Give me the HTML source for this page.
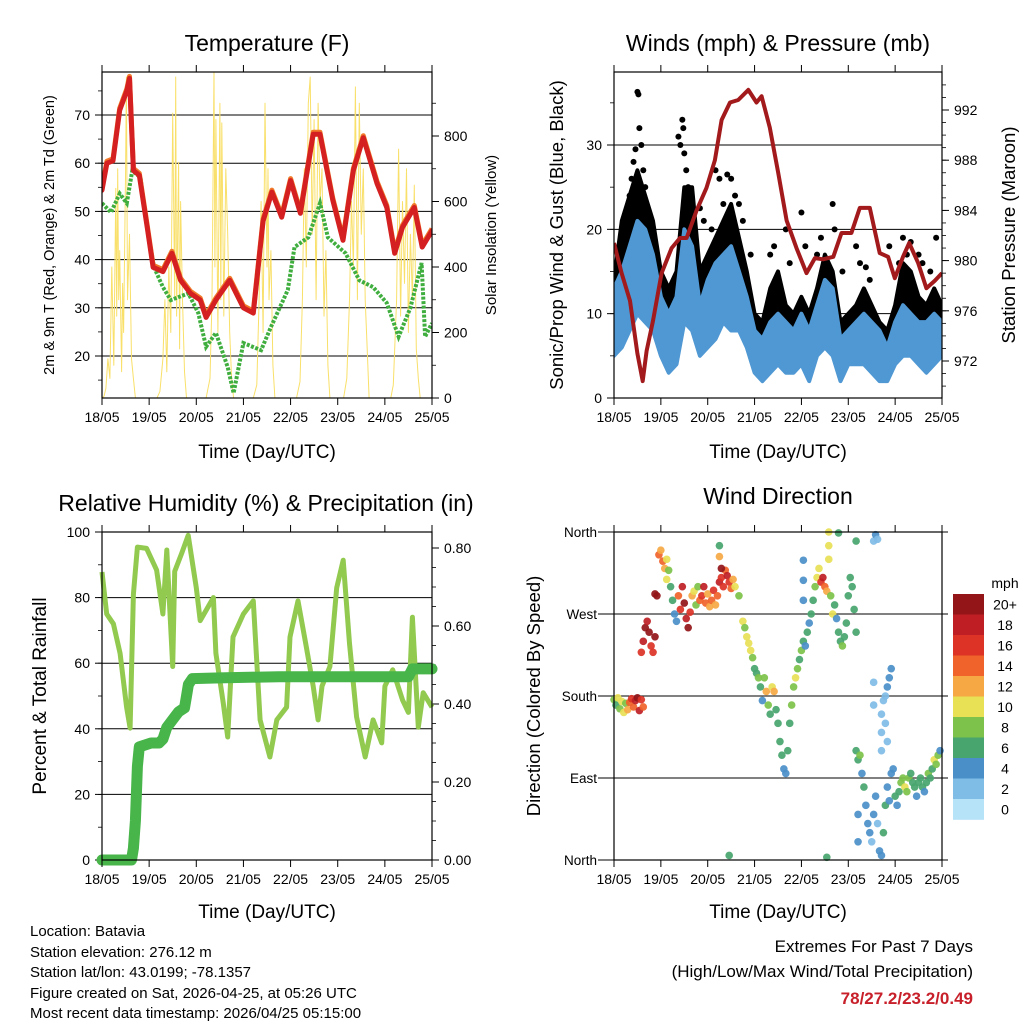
<!DOCTYPE html>
<html><head><meta charset="utf-8"><title>Station Meteogram</title>
<style>
html,body{margin:0;padding:0;background:#fff;}
svg{display:block;font-family:"Liberation Sans",Arial,sans-serif;}
.ttl{font-size:23px;fill:#000;}
.axl{font-size:19px;fill:#000;}
.ft{font-size:15px;fill:#000;}
</style></head>
<body>
<svg id="chart" width="1024" height="1024" viewBox="0 0 1024 1024">
<rect x="0" y="0" width="1024" height="1024" fill="#fff"/>
<g id="p1"></g>
<g id="p2"></g>
<g id="p3"></g>
<g id="p4"></g>

<text class="ttl" x="267" y="51" text-anchor="middle">Temperature (F)</text>
<text class="ttl" x="778" y="51" text-anchor="middle">Winds (mph) &amp; Pressure (mb)</text>
<text class="ttl" x="266" y="511" text-anchor="middle">Relative Humidity (%) &amp; Precipitation (in)</text>
<text class="ttl" x="778" y="504" text-anchor="middle">Wind Direction</text>

<text class="axl" x="267" y="458" text-anchor="middle">Time (Day/UTC)</text>
<text class="axl" x="778" y="458" text-anchor="middle">Time (Day/UTC)</text>
<text class="axl" x="267" y="918" text-anchor="middle">Time (Day/UTC)</text>
<text class="axl" x="778" y="918" text-anchor="middle">Time (Day/UTC)</text>

<text x="0" y="0" transform="translate(54,235) rotate(-90)" text-anchor="middle" style="font-size:14.5px">2m &amp; 9m T (Red, Orange) &amp; 2m Td (Green)</text>
<text x="0" y="0" transform="translate(496,235) rotate(-90)" text-anchor="middle" style="font-size:15px">Solar Insolation (Yellow)</text>
<text x="0" y="0" transform="translate(563,235) rotate(-90)" text-anchor="middle" style="font-size:18.5px">Sonic/Prop Wind &amp; Gust (Blue, Black)</text>
<text x="0" y="0" transform="translate(1015,235) rotate(-90)" text-anchor="middle" style="font-size:18.5px">Station Pressure (Maroon)</text>
<text x="0" y="0" transform="translate(46,696) rotate(-90)" text-anchor="middle" style="font-size:19px">Percent &amp; Total Rainfall</text>
<text x="0" y="0" transform="translate(540,696) rotate(-90)" text-anchor="middle" style="font-size:18.5px">Direction (Colored By Speed)</text>

<g>
<text class="ft" x="30" y="936">Location: Batavia</text>
<text class="ft" x="30" y="957">Station elevation: 276.12 m</text>
<text class="ft" x="30" y="977">Station lat/lon: 43.0199; -78.1357</text>
<text class="ft" x="30" y="998">Figure created on Sat, 2026-04-25, at 05:26 UTC</text>
<text class="ft" x="30" y="1018">Most recent data timestamp: 2026/04/25 05:15:00</text>
</g>
<g>
<text x="973" y="952" text-anchor="end" style="font-size:17px">Extremes For Past 7 Days</text>
<text x="973" y="977" text-anchor="end" style="font-size:17px">(High/Low/Max Wind/Total Precipitation)</text>
<text x="973" y="1004" text-anchor="end" style="font-size:17px;font-weight:bold;fill:#c8202a">78/27.2/23.2/0.49</text>
</g>
</svg>
<script>
// ---------- data ----------
var dayLabels = ["18/05","19/05","20/05","21/05","22/05","23/05","24/05","25/05"];
// temperature panel
var tempTicks = [20,30,40,50,60,70];
var solarTicks = [0,200,400,600,800];
var tempH = [0,2.5,5.6,9,12.6,14,16,19,23,26,31,35.6,40,45,50,53,58,65,72,77,82,86.5,91.5,96,101,107.5,111,117.5,122.7,128,133,140,145,149,153,159,163,168];
var tempV = [54.4,60,60.5,71,75,77.6,58.5,57.5,46.7,38.4,37.5,41.3,35.7,33,31.6,28,31.6,35.7,30,28.9,48,54,48.8,56.4,49.6,66,66,52.3,44,58.5,65.3,55.8,50.8,41.3,46.7,50.8,42.6,46];
var dewH = [0,4.6,9,12.6,15.4,19.6,23,26.5,31,35,44,49,53,58,64,67,72,81,86,94.6,98,105,111,115,124,131,138,145,151,157,162.7,164.5,168];
var dewV = [51.7,49.8,53.7,51.7,58.5,57,46.7,38.4,34.3,31.6,33,28.9,21.9,24.8,17.7,12.3,22.7,21.2,26,33.7,42.6,44.6,51.7,44.6,41.3,35.7,34.3,31,24,30,39.3,24,26.8];
var solarH = [0,1,2,3,4,5,6,7,7.5,8,8.5,9,10,10.5,11,12,12.4,13,14,15,16,17,
  28,29.5,31,32,33,34,35,36,37,37.5,38,39,39.5,40,41,42,43,
  53,55,56,57,57.5,58,59,60,60.5,61,62,63,64,65,66,67,
  77,78.8,80,81,82,83,84,84.5,85,86,87,88,
  99,100.8,102,103,104,105,106,107,108,109,110,111,112,113,114,115,116,
  123,124.6,126,127,128,129,130,131,132,133,134,135,136,
  147,148.3,150,151,152,153,154,155,156,157,158,159,160,161,162];
var solarW = [0,5,30,120,60,400,100,640,250,700,300,450,80,350,200,700,980,300,500,120,60,0,
  0,20,120,300,80,400,200,870,300,980,250,720,150,600,300,80,0,
  0,60,300,1000,400,850,200,900,300,840,250,700,500,200,60,0,
  0,40,300,600,200,900,400,700,300,450,100,0,
  0,50,300,700,400,900,980,500,850,300,900,600,700,250,450,100,0,
  0,60,300,600,400,950,300,900,500,700,300,150,0,
  0,40,300,760,250,600,350,700,200,500,300,650,150,60,0];
// wind panel
var windTicks = [0,10,20,30];
var presTicks = [972,976,980,984,988,992];
var windH = [0,4,8,12,16,20,24,28,32,36,40,44,48,52,56,60,64,68,72,76,80,84,88,92,96,100,104,108,112,116,120,124,128,132,136,140,144,148,152,156,160,164,168];
var windLo = [5,6,8,10,9,8,5,3,4,9,8,5,6,7,9,8,8,6,3,2,3,4,3,3,4,2,5,6,5,2,4,4,4,3,2,2,4,5,5,4,3,4,5];
var windHi = [13,15,18,21,20,17,12,10,12,20,18,11,14,16,17,18,15,12,8,7,9,10,9,8,10,8,11,14,13,7,8,9,10,9,8,6,9,11,10,9,9,10,9];
var gustLo = [8,9,12,15,13,11,8,7,7,13,12,8,9,10,12,12,11,8,6,5,6,7,6,6,6,5,8,10,8,5,6,6,7,6,5,4,6,9,8,7,6,7,7];
var gustHi = [14,21,24,27,24,21,15,13,15,25,25,15,17,19,21,23,19,15,10,9,13,15,11,10,12,10,13,17,15,9,10,11,13,11,9,8,11,16,15,12,11,13,11];
var gustPeakH = [12,12.5,13,11,10,9,14,15,16,8,6,33,34,35,36,37,35.5,38,44,46,50,52,54,56,58,60,62,64,66,70,80,82,88,90,96,98,104,106,112,113,117,124,126,129,131,141,146,148,150,152,156,158,162,165];
var gustPeakV = [36.3,36,32,29.5,28,26,30,27,25,24,22,31,30,33,29,27,32,25,22.5,21,20,27,26,23,26.5,26,24,23,21,17,17,18,20,16,22,18,17,19,23,20,15,18,16,15.5,14,18,16,19,17,18.5,17,16,15,19];
var presH = [0,3.9,8.2,12,14.7,16.7,20,24.4,29.5,33.8,37.2,42.3,47.4,51.7,55.1,59.4,63.6,68.8,73,75.6,79.8,84.1,88.4,93.5,98.6,102.9,107.1,112.3,116.5,121.6,125.9,131,136.1,140.4,143.8,148,151.2,155.8,160,164.3,168];
var presV = [981.4,979,976.8,972.6,970.4,972.8,975.2,979,981,981.8,981.8,984,985.8,988,991.2,992.6,992.8,993.6,992.6,993.1,990.6,987,983.2,981,979,980.2,980.1,980.3,982.2,982.2,984.2,984.2,980.6,980.3,978.6,980.3,981.4,979.8,977.8,978.4,979];
// RH panel
var rhTicks = [0,20,40,60,80,100];
var prTicks = [0,0.2,0.4,0.6,0.8];
var rhH = [0,2.4,5.8,9.2,12.5,14.3,16,18,22.7,27.8,31,33,36,37,40.6,43.9,48,50,56.7,58,61.7,64,66.7,72,77,80.5,85.5,89,94,95.7,99.8,104,107.5,110,112,116,119.5,122.8,126,129.6,134,138,142.4,144,148,153,156,158,161,163.5,168];
var rhV = [87.8,75,72,63,46.6,40.2,81,95.4,95,88.4,75,94.5,59,88,93.6,99,83,73,80,63,48,37.5,68,75,79,42.7,31.4,42.7,46.6,68,79,65,53,42.7,53,59,83,91.4,66,43.6,31.4,42.7,35.7,53,58,48.8,45,74,40.5,51,46.6];
var prH = [0,15,16,17,17.5,18,19,25,29,31,33,36,39,42,43,44,46,60,90,100,156,158,168];
var prV = [0,0,0.03,0.1,0.17,0.24,0.29,0.30,0.30,0.31,0.34,0.36,0.38,0.39,0.42,0.45,0.465,0.467,0.47,0.47,0.47,0.49,0.49];
// wind direction panel
var dirTickLabels = ["North","East","South","West","North"];
var speedLabels = ["20+","18","16","14","12","10","8","6","4","2","0"];
var speedColors = ["#931518","#be1e24","#dc3326","#f0632a","#f6a845","#e8e055","#7dc24a","#48a56e","#4a8fc8","#7fbce6","#b6e3f8"];
var dirH = [0,1,2,3,4,5,6,7,8,9,10,11,12,13,14,15,
 14,15,16,17,18,19,20,21,21,22,23,24,25,26,27,28,27,
 29,30,31,32,33,34,35,36,37,38,39,40,41,42,43,44,
 45,46,47,48,49,50,51,52,53,54,55,56,57,58,59,60,61,62,64,54,54,55,
 66,67,68,69,70,71,
 72,73,74,75,76,77,78,79,80,81,82,83,84,85,86,87,88,89,90,91,92,93,94,
 95,96,97,98,99,100,101,102,103,104,105,106,107,108,109,110,110,111,112,110,97,97,97,
 113,114,115,116,117,118,119,120,121,122,123,124,115,124,
 133,134,135,
 124,125,126,127,128,129,130,131,132,133,134,135,136,137,138,139,140,141,142,143,125,125,
 137,137,137,138,139,140,141,142,139,140,133,133,
 144,145,146,147,148,149,150,151,152,153,154,155,156,157,158,159,160,161,162,163,164,165,166,167,
 59,109];
var dirD = [176,170,178,166,174,162,172,165,173,177,168,175,178,164,176,168,
 228,240,255,262,250,235,228,245,292,290,335,340,328,320,330,318,308,
 300,285,270,262,290,275,300,282,265,255,272,290,295,280,300,285,
 290,300,282,292,278,285,296,280,290,305,310,300,318,312,305,298,308,300,290,345,333,320,
 262,255,245,238,230,222,
 210,205,200,190,175,200,185,170,160,190,185,165,150,130,115,100,95,120,150,170,190,200,210,
 220,230,240,235,250,260,270,285,300,310,320,305,310,300,295,345,330,290,270,360,329,307,285,
 280,265,250,240,235,245,260,290,310,300,275,250,359,350,
 350,357,352,
 120,110,115,95,80,60,40,30,20,50,70,40,10,5,30,60,80,65,95,100,50,20,
 120,140,160,175,180,190,200,210,150,130,195,170,
 70,60,75,85,90,80,75,90,95,85,80,70,85,90,80,75,85,95,90,100,110,105,115,120,
 5,3];
var dirS = [9,6,10,9,11,10,8,12,15,16,14,19,20,18,17,15,
 16,18,20,19,21,17,16,20,21,20,14,13,15,12,11,8,10,
 7,6,5,4,14,16,18,20,19,20,17,12,10,9,8,14,
 16,18,14,12,13,15,17,12,14,18,17,16,15,18,16,14,12,10,8,7,13,20,
 10,9,10,11,10,9,
 6,7,8,6,5,9,12,8,6,11,12,7,6,7,6,5,4,6,7,8,9,10,8,
 7,8,6,5,7,5,6,7,8,10,11,16,18,14,12,10,11,9,10,10,4,4,4,
 6,5,6,7,8,6,7,6,7,6,7,6,6,6,
 3,4,3,
 6,7,8,5,6,5,4,4,3,4,4,3,4,4,6,6,5,4,4,5,4,4,
 2,2,2,2,3,4,4,5,3,2,2,2,
 6,5,7,8,9,10,9,8,7,6,7,5,6,7,6,5,7,8,6,7,10,9,8,4,
 7,7];

// ---------- helpers ----------
var NS = "http://www.w3.org/2000/svg";
function mk(parent, tag, attrs){
  var el = document.createElementNS(NS, tag);
  for (var k in attrs) el.setAttribute(k, attrs[k]);
  parent.appendChild(el);
  return el;
}
function txt(parent, x, y, s, anchor, size){
  var t = mk(parent, "text", {x:x, y:y, "text-anchor":anchor, "font-size":size});
  t.textContent = s;
  return t;
}
function pathFrom(xs, ys, fx, fy){
  var d = "";
  for (var i=0;i<xs.length;i++) d += (i?"L":"M") + fx(xs[i]).toFixed(1) + "," + fy(ys[i]).toFixed(1);
  return d;
}
function linScale(d0,d1,r0,r1){ return function(v){ return r0 + (v-d0)/(d1-d0)*(r1-r0); }; }

function frame(g, x0, x1, y0, y1, name){
  var fx = linScale(0,168,x0,x1);
  for (var i=0;i<dayLabels.length;i++){
    var x = fx(i*24);
    var tk = mk(g,"line",{x1:x,x2:x,y1:y1,y2:y1+7,stroke:"#000","stroke-width":1});
    
    
    var tk2 = mk(g,"line",{x1:x,x2:x,y1:y0,y2:y0-7,stroke:"#000","stroke-width":1});
    
    
    var lb = txt(g, x, y1+24, dayLabels[i], "middle", 14);
    
    
  }
  var r = mk(g,"rect",{x:x0,y:y0,width:x1-x0,height:y1-y0,fill:"none",stroke:"#000","stroke-width":1.2});
  
  
  return fx;
}
function leftAxis(g, ticks, fy, x0, x1, grid, fmt, minorStep, lo, hi){
  for (var i=0;i<ticks.length;i++){
    var y = fy(ticks[i]);
    if (grid){
      var gl = mk(g,"line",{x1:x0,x2:x1,y1:y,y2:y,stroke:"#000","stroke-width":1});
      
      
    }
    var tk = mk(g,"line",{x1:x0-7,x2:x0,y1:y,y2:y,stroke:"#000","stroke-width":1});
    
    
    var lb = txt(g, x0-12, y+5, fmt(ticks[i]), "end", 14);
    
    
  }
  if (minorStep){
    for (var v=lo; v<=hi; v+=minorStep){
      var m = mk(g,"line",{x1:x0-4,x2:x0,y1:fy(v),y2:fy(v),stroke:"#000","stroke-width":0.8});
      
      
    }
  }
}
function rightAxis(g, ticks, fy, x1, fmt, minorStep, lo, hi){
  for (var i=0;i<ticks.length;i++){
    var y = fy(ticks[i]);
    var tk = mk(g,"line",{x1:x1,x2:x1+7,y1:y,y2:y,stroke:"#000","stroke-width":1});
    
    
    var lb = txt(g, x1+12, y+5, fmt(ticks[i]), "start", 14);
    
    
  }
  if (minorStep){
    for (var v=lo; v<=hi+1e-9; v+=minorStep){
      var m = mk(g,"line",{x1:x1,x2:x1+4,y1:fy(v),y2:fy(v),stroke:"#000","stroke-width":0.8});
      
      
    }
  }
}
function id(v){ return String(v); }

// ---------- panel 1: temperature ----------
(function(){
  var g = document.getElementById("p1");
  var X0=102,X1=432,Y0=72,Y1=398;
  var fy = linScale(20,70,356,115);
  var fs = linScale(0,800,398,136);
  var fx = linScale(0,168,X0,X1);
  leftAxis(g, tempTicks, fy, X0, X1, true, id, 5, 15, 75);
  rightAxis(g, solarTicks, fs, X1, id, 100, 0, 900);
  var clip = mk(g,"clipPath",{id:"c1"});
  mk(clip,"rect",{x:X0,y:Y0,width:X1-X0,height:Y1-Y0});
  var s = mk(g,"path",{d:pathFrom(solarH,solarW,fx,fs),fill:"none",stroke:"#f9e06a","stroke-width":1,"clip-path":"url(#c1)","stroke-linejoin":"round"});
  
  
  var d = mk(g,"path",{d:pathFrom(dewH,dewV,fx,fy),fill:"none",stroke:"#3fae3f","stroke-width":4,"stroke-dasharray":"3 1.5","clip-path":"url(#c1)"});
  
  
  var o = mk(g,"path",{d:pathFrom(tempH,tempV,fx,function(v){return fy(v)-2;}),fill:"none",stroke:"#f07a2a","stroke-width":5,"stroke-linejoin":"round","clip-path":"url(#c1)"});
  
  
  var t = mk(g,"path",{d:pathFrom(tempH,tempV,fx,fy),fill:"none",stroke:"#d42020","stroke-width":5,"stroke-linejoin":"round","stroke-linecap":"round","clip-path":"url(#c1)"});
  
  
  frame(g,X0,X1,Y0,Y1,"temperature");
})();

// ---------- panel 2: winds & pressure ----------
(function(){
  var g = document.getElementById("p2");
  var X0=614,X1=942,Y0=72,Y1=398;
  var fy = linScale(0,30,398,145);
  var fp = linScale(972,992,361,110);
  var fx = linScale(0,168,X0,X1);
  leftAxis(g, windTicks, fy, X0, X1, true, id, 5, 0, 35);
  rightAxis(g, presTicks, fp, X1, id, 1, 970, 994);
  var clip = mk(g,"clipPath",{id:"c2"});
  mk(clip,"rect",{x:X0,y:Y0,width:X1-X0,height:Y1-Y0});
  function band(lo, hi, color, name){
    var d = "";
    for (var i=0;i<windH.length;i++) d += (i?"L":"M")+fx(windH[i]).toFixed(1)+","+fy(hi[i]).toFixed(1);
    for (var j=windH.length-1;j>=0;j--) d += "L"+fx(windH[j]).toFixed(1)+","+fy(lo[j]).toFixed(1);
    var p = mk(g,"path",{d:d+"Z",fill:color,stroke:color,"stroke-width":4,"stroke-linejoin":"round","clip-path":"url(#c2)"});
    
    
  }
  band(gustLo, gustHi, "#000", "gust-band");
  for (var i=0;i<gustPeakH.length;i++){
    var c = mk(g,"circle",{cx:fx(gustPeakH[i]),cy:fy(gustPeakV[i]),r:3,fill:"#000"});
    
    
  }
  band(windLo, windHi, "#4f98d3", "wind-speed-band");
  var p = mk(g,"path",{d:pathFrom(presH,presV,fx,fp),fill:"none",stroke:"#a31a1c","stroke-width":4,"stroke-linejoin":"round","clip-path":"url(#c2)"});
  
  
  frame(g,X0,X1,Y0,Y1,"winds");
})();

// ---------- panel 3: RH & precip ----------
(function(){
  var g = document.getElementById("p3");
  var X0=102,X1=432,Y0=532,Y1=860;
  var fy = linScale(0,100,860,532);
  var fp = linScale(0,0.8,860,548);
  var fx = linScale(0,168,X0,X1);
  leftAxis(g, rhTicks, fy, X0, X1, true, id, 10, 0, 100);
  rightAxis(g, prTicks, fp, X1, function(v){return v.toFixed(2);}, 0.05, 0, 0.8);
  var r = mk(g,"path",{d:pathFrom(rhH,rhV,fx,fy),fill:"none",stroke:"#92ca50","stroke-width":5,"stroke-linejoin":"round"});
  
  
  var p = mk(g,"path",{d:pathFrom(prH,prV,fx,fp),fill:"none",stroke:"#47b549","stroke-width":11,"stroke-linejoin":"round","stroke-linecap":"round"});
  
  
  frame(g,X0,X1,Y0,Y1,"humidity");
})();

// ---------- panel 4: wind direction ----------
(function(){
  var g = document.getElementById("p4");
  var X0=614,X1=942,Y0=532,Y1=860;
  var fy = linScale(0,360,860,532);
  var fx = linScale(0,168,X0,X1);
  for (var i=0;i<dirTickLabels.length;i++){
    var y = fy(i*90);
    var gl = mk(g,"line",{x1:X0-16,x2:X1+6,y1:y,y2:y,stroke:"#000","stroke-width":1});
    
    
    var lb = txt(g, X0-17, y+5, dirTickLabels[i], "end", 13.5);
    
    
  }
  for (var k=0;k<dirH.length;k++){
    var bin = Math.min(10, Math.floor(dirS[k]/2));
    var c = mk(g,"circle",{cx:fx(dirH[k]),cy:fy(dirD[k]),r:3.8,fill:speedColors[10-bin],"fill-opacity":0.92});
    
    
  }
  frame(g,X0,X1,Y0,Y1,"direction");
  var cb = mk(g,"g",{});
  
  
  var t = txt(cb, 1005, 588, "mph", "middle", 14);
  
  
  var top=594, h=20.5;
  for (var i=0;i<speedColors.length;i++){
    var rc = mk(cb,"rect",{x:953,y:top+i*h,width:31,height:h+0.3,fill:speedColors[i]});
    
    
    var lb = txt(cb, 1005, top+i*h+h/2+5, speedLabels[i], "middle", 14);
    
    
  }
})();
</script>
</body></html>
